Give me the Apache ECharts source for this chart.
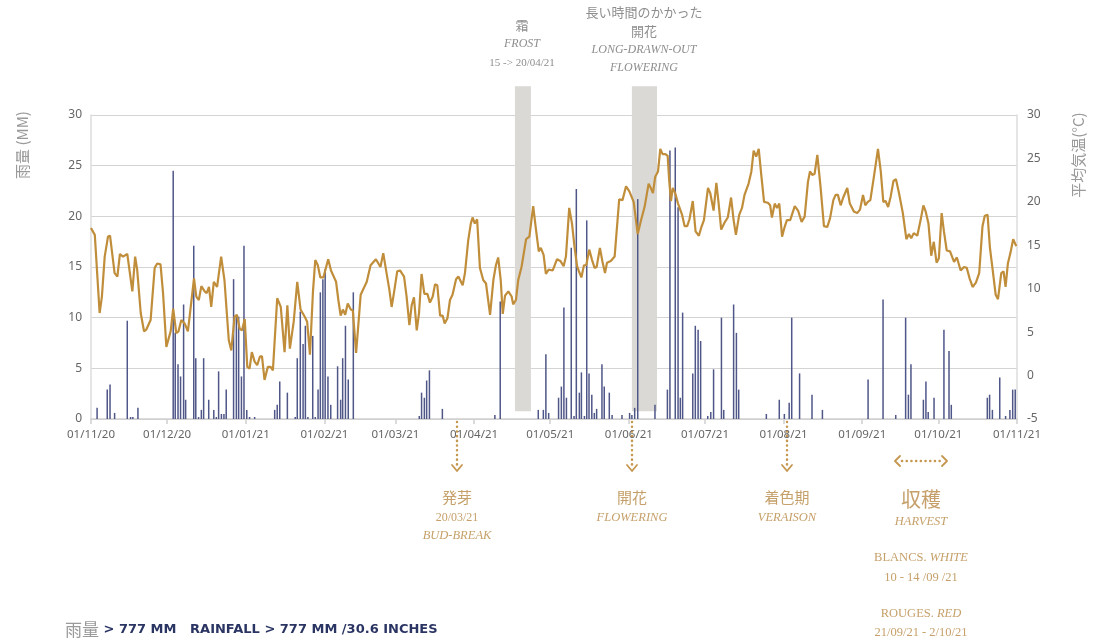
<!DOCTYPE html>
<html>
<head>
<meta charset="utf-8">
<script src="https://cdn.jsdelivr.net/npm/echarts@6/dist/echarts.min.js"></script>
<style>
  html, body { margin: 0; padding: 0; background: #fff; }
  #chart { width: 1096px; height: 642px; }
</style>
</head>
<body>
<div id="chart"></div>
<script>
// x axis: days since 01/11/20
const monthDays = [0, 30, 61, 92, 120, 151, 181, 212, 242, 273, 304, 334, 365];
const monthLabels = ['01/11/20', '01/12/20', '01/01/21', '01/02/21', '01/03/21', '01/04/21',
  '01/05/21', '01/06/21', '01/07/21', '01/08/21', '01/09/21', '01/10/21', '01/11/21'];

// daily mean temperature (°C)
const tempDay = [0, 1.5, 3.4, 4.3, 5.4, 6.7, 7.5, 9.3, 10.4, 11.4, 12.6, 14.3, 16.3, 17.4, 18.2, 19.6, 20.9, 21.8, 23.5, 25.1,
  26.1, 27.4, 28.4, 29.7, 31.4, 32.4, 33.6, 34.5, 35.6, 36.9, 38.2, 40.6, 41.5, 42.5, 43.5, 44.8, 45.6, 46.5, 47.4, 48.4,
  49.7, 51.3, 52.6, 54.3, 55.3, 56.6, 57.5, 58.6, 59.5, 60.6, 61.6, 62.5, 63.4, 64.5, 65.5, 66.6, 67.4, 68.4, 69.7, 70.8,
  71.7, 73.4, 74.8, 76.3, 77.4, 78.4, 79.9, 81.3, 82.6, 84.2, 85.2, 86.3, 87.5, 88.4, 89.4, 90.4, 91.6, 93.5, 94.6, 96.6,
  97.5, 98.4, 99.3, 100.2, 101.2, 102.4, 103.2, 104.5, 106.3, 107.4, 108.7, 110.2, 112.3, 114.1, 115.2, 116.5, 117.6, 118.5, 119.4, 120.7,
  121.8, 123.4, 124.4, 125.5, 126.4, 127.3, 128.4, 129.3, 130.3, 131.4, 132.6, 133.6, 134.7, 135.6, 136.5, 137.6, 138.6, 139.4, 140.5, 141.5,
  142.5, 143.9, 144.8, 146.5, 147.4, 148.7, 149.7, 150.4, 151.3, 152.2, 153.3, 154.6, 155.7, 157.3, 158.6, 159.6, 160.5, 161.5, 162.3, 163.2,
  164.5, 165.8, 166.4, 167.5, 168.4, 169.7, 171.5, 172.8, 174.3, 175.4, 176.5, 177.3, 178.4, 179.3, 180.4, 182.0, 183.7, 185.0, 186.3, 187.2,
  188.5, 189.6, 190.6, 191.6, 192.2, 193.3, 194.3, 195.2, 196.4, 197.5, 198.5, 199.3, 200.6, 201.6, 202.6, 203.4, 204.9, 206.4, 208.2, 209.5,
  210.9, 212.2, 213.9, 215.5, 216.9, 218.2, 219.8, 220.8, 221.5, 222.4, 223.5, 224.4, 225.3, 226.4, 227.3, 227.9, 228.6, 229.3, 230.3, 231.4,
  233.0, 234.0, 235.0, 235.9, 237.2, 238.3, 239.6, 240.6, 241.6, 243.2, 244.1, 245.4, 246.5, 247.4, 248.4, 249.7, 251.0, 252.3, 253.3, 254.2,
  255.5, 256.6, 257.6, 259.2, 260.3, 261.2, 262.2, 263.2, 264.2, 265.3, 266.8, 267.7, 268.4, 269.5, 270.4, 271.3, 272.4, 273.4, 274.3, 275.6,
  277.4, 278.7, 280.1, 281.3, 282.6, 283.4, 284.3, 285.2, 286.3, 287.6, 288.9, 290.2, 291.3, 292.6, 293.5, 294.4, 295.5, 296.5, 298.1, 299.1,
  300.7, 302.0, 303.1, 304.3, 305.2, 306.2, 307.2, 308.6, 310.2, 311.3, 312.3, 313.2, 314.2, 315.2, 316.3, 317.3, 318.5, 320.0, 321.4, 322.4,
  323.3, 324.3, 325.7, 327.0, 328.1, 329.0, 330.1, 331.2, 332.2, 333.3, 334.2, 335.3, 336.2, 337.3, 338.6, 340.2, 341.3, 342.8, 344.1, 345.2,
  346.3, 347.5, 348.8, 350.1, 351.4, 352.3, 353.4, 354.3, 355.4, 356.6, 357.5, 358.8, 359.7, 360.5, 361.4, 362.4, 363.5, 364.7];
const tempC = [17.0, 16.2, 7.2, 9.1, 13.7, 16.0, 16.1, 11.8, 11.4, 14.0, 13.7, 14.0, 9.7, 13.7, 12.2, 7.2, 5.1, 5.3, 6.4, 12.4,
  12.9, 12.8, 9.5, 3.3, 5.1, 7.7, 4.9, 5.1, 6.4, 6.0, 5.1, 11.2, 9.1, 8.7, 10.3, 9.7, 9.5, 10.2, 7.9, 10.8,
  10.2, 13.7, 11.0, 4.1, 2.9, 6.8, 7.0, 5.4, 5.2, 6.5, 1.0, 0.8, 2.7, 1.6, 1.2, 2.2, 2.2, -0.5, 1.0, 1.0,
  0.6, 8.9, 7.9, 2.7, 8.1, 3.1, 6.2, 10.8, 7.6, 6.8, 6.2, 2.4, 9.7, 13.3, 12.7, 11.3, 11.3, 13.4, 12.1, 10.8,
  8.7, 6.9, 7.6, 7.0, 8.3, 7.6, 7.5, 2.6, 9.3, 10.0, 10.8, 12.7, 13.4, 12.5, 14.1, 11.8, 9.9, 7.9, 9.5, 12.0,
  12.1, 11.4, 9.1, 5.8, 8.1, 9.0, 5.2, 7.2, 11.7, 9.4, 9.4, 8.4, 9.1, 10.5, 10.4, 6.9, 6.9, 6.0, 6.6, 8.7,
  9.3, 11.1, 11.4, 10.4, 11.8, 15.6, 17.5, 18.2, 17.5, 18.0, 12.4, 11.0, 10.6, 7.0, 11.0, 12.7, 13.6, 11.0, 7.1, 9.2,
  9.7, 9.1, 8.2, 8.7, 11.0, 12.5, 15.7, 16.0, 19.5, 16.8, 14.3, 14.7, 13.9, 11.7, 12.2, 12.1, 13.4, 13.2, 12.6, 13.7,
  19.3, 17.5, 14.8, 12.6, 12.1, 11.3, 12.7, 12.7, 14.5, 13.3, 12.4, 12.5, 14.7, 13.1, 11.8, 13.0, 13.2, 13.7, 20.3, 20.2,
  21.8, 21.2, 20.0, 16.3, 18.0, 19.4, 22.1, 21.5, 21.0, 22.9, 23.5, 26.1, 25.5, 25.5, 25.3, 22.5, 20.1, 21.6, 21.0, 19.8,
  18.5, 17.2, 17.2, 18.0, 20.1, 16.6, 16.1, 17.1, 17.9, 21.6, 21.0, 19.0, 22.2, 19.8, 16.8, 17.6, 18.2, 20.5, 17.9, 16.2,
  18.5, 19.3, 20.8, 22.1, 23.5, 25.9, 25.2, 26.1, 23.1, 20.0, 19.9, 19.6, 18.2, 19.8, 19.3, 19.8, 16.0, 17.1, 17.9, 17.9,
  19.5, 19.0, 17.7, 18.3, 22.3, 23.5, 23.1, 23.2, 25.4, 21.6, 17.2, 17.1, 18.1, 20.2, 20.8, 20.8, 19.6, 20.5, 21.6, 19.8,
  18.9, 18.7, 19.1, 20.8, 19.6, 20.0, 20.2, 22.9, 26.1, 23.5, 20.0, 20.1, 19.4, 20.6, 22.4, 22.6, 21.0, 18.7, 15.7, 16.3,
  15.8, 16.4, 16.1, 17.9, 19.6, 18.9, 17.5, 13.8, 15.4, 13.0, 13.5, 18.7, 16.6, 14.4, 14.3, 13.1, 13.6, 12.1, 12.5, 12.4,
  11.2, 10.2, 10.7, 11.8, 17.2, 18.4, 18.5, 14.8, 12.2, 9.3, 8.8, 11.8, 12.0, 10.2, 12.9, 14.1, 15.7, 14.9];

// daily rainfall (mm)
const rainDay = [2.4, 6.4, 7.5, 9.3, 14.3, 15.6, 16.5, 18.5, 32.4, 33.2, 34.3, 35.3, 36.5, 37.3, 40.5, 41.3, 42.4, 43.5, 44.4, 46.4,
  48.4, 49.4, 50.3, 51.4, 52.4, 53.3, 56.2, 57.3, 58.2, 59.3, 60.3, 61.4, 62.5, 64.5, 72.4, 73.4, 74.4, 77.4, 80.5, 81.3,
  82.5, 83.6, 84.5, 85.5, 87.4, 88.4, 89.5, 90.4, 91.4, 92.3, 93.4, 94.5, 97.2, 98.4, 99.2, 100.3, 101.4, 103.4, 129.4, 130.3,
  131.4, 132.3, 133.4, 138.5, 159.2, 161.3, 176.3, 178.3, 179.3, 180.4, 184.3, 185.4, 186.4, 187.4, 189.3, 190.4, 191.3, 192.5, 193.3, 194.5,
  195.4, 196.3, 197.4, 198.4, 199.3, 201.4, 202.3, 204.3, 205.4, 209.3, 212.3, 213.2, 214.3, 215.5, 222.3, 227.2, 228.2, 230.3, 231.4, 232.3,
  233.2, 237.2, 238.2, 239.3, 240.3, 243.1, 244.3, 245.4, 248.5, 249.4, 253.3, 254.4, 255.3, 266.2, 271.3, 273.3, 275.2, 276.2, 279.3, 284.2,
  288.3, 306.3, 312.2, 317.2, 321.1, 322.2, 323.2, 328.1, 329.1, 330.0, 332.3, 336.2, 338.2, 339.1, 353.3, 354.2, 355.3, 358.2, 360.5, 362.2,
  363.3, 364.3];
const rainMM = [1.1, 2.9, 3.4, 0.6, 9.7, 0.2, 0.2, 1.1, 24.5, 8.5, 5.4, 4.2, 11.3, 1.9, 17.1, 6.0, 0.2, 0.9, 6.0, 1.9,
  0.9, 0.2, 4.7, 0.5, 0.5, 2.9, 13.8, 10.2, 10.1, 4.2, 17.1, 0.9, 0.2, 0.2, 0.9, 1.4, 3.7, 2.6, 0.2, 6.0,
  10.6, 7.4, 9.2, 0.2, 8.2, 0.2, 2.9, 12.5, 13.8, 14.8, 4.2, 1.4, 5.2, 1.9, 6.0, 9.2, 3.9, 12.5, 0.3, 2.6,
  2.1, 3.8, 4.8, 1.0, 0.4, 11.6, 0.9, 0.9, 6.4, 0.6, 2.1, 3.2, 11.0, 2.1, 16.9, 0.3, 22.7, 2.6, 4.6, 0.3,
  19.6, 4.5, 2.4, 0.6, 1.0, 5.4, 3.2, 2.6, 0.4, 0.4, 0.6, 0.4, 1.1, 21.7, 1.4, 2.9, 26.5, 26.8, 20.9, 2.1,
  10.5, 4.5, 9.2, 8.8, 7.7, 0.3, 0.7, 4.9, 10.0, 0.9, 11.3, 8.5, 2.9, 0.5, 1.9, 0.5, 1.6, 10.0, 4.5, 2.4,
  0.9, 3.9, 11.8, 0.4, 10.0, 2.4, 5.4, 1.9, 3.7, 0.7, 2.1, 8.8, 6.7, 1.4, 2.1, 2.4, 0.9, 4.1, 0.3, 0.9,
  2.9, 2.9];

// shaded periods (day ranges): frost 15 -> 20/04, long-drawn-out flowering
const bandDays = [[167.1, 173.4], [213.2, 223.1]];
// vertical extent of the shaded periods, in °C on the right axis
const bandTop = 33.3;
const bandBottom = -4.1;

const GOLD = '#c6a06a';
const LINE = '#c08e3b';
const GREY = '#8e8e8e';
const NAVY = '#2b3563';
const SERIF = '"Liberation Serif", "DejaVu Serif", serif';
const CJK = '"Noto Sans CJK JP", sans-serif';
const SANS = '"Noto Sans", "Open Sans", sans-serif';

const chart = echarts.init(document.getElementById('chart'));

function txt(x, y, text, size, color, extra) {
  return {
    type: 'text', x: x, y: y, silent: true,
    style: Object.assign({
      text: text, fill: color, fontSize: size, fontFamily: SERIF,
      align: 'center', verticalAlign: 'middle', textAlign: 'center', textVerticalAlign: 'middle'
    }, extra || {})
  };
}

function dotLine(x1, y1, x2, y2) {
  return {
    type: 'line', silent: true,
    shape: { x1: x1, y1: y1, x2: x2, y2: y2 },
    style: { stroke: '#c5974f', lineWidth: 2.5, lineDash: [0.1, 4.6], lineCap: 'round' }
  };
}
function chevron(points) {
  return {
    type: 'polyline', silent: true,
    shape: { points: points },
    style: { stroke: '#c5974f', lineWidth: 1.8, fill: null, lineCap: 'round', lineJoin: 'round' }
  };
}

const italicPair = {
  a: { fontSize: 12.5, fill: GOLD, fontFamily: SERIF },
  b: { fontSize: 12.5, fill: GOLD, fontFamily: SERIF, fontStyle: 'italic' }
};

const graphics = [
  // y-axis titles
  txt(22, 145, '雨量 (MM)', 15, '#9a9a9a', { fontFamily: CJK }),
  txt(1078, 155, '平均気温(°C)', 15, '#9a9a9a', { fontFamily: CJK }),

  // top annotations
  txt(522, 25, '霜', 13, GREY, { fontFamily: CJK }),
  txt(522, 44, 'FROST', 12, GREY, { fontStyle: 'italic' }),
  txt(522, 63, '15 -> 20/04/21', 11, GREY),
  txt(644, 12, '長い時間のかかった', 13, GREY, { fontFamily: CJK }),
  txt(644, 31, '開花', 13, GREY, { fontFamily: CJK }),
  txt(644, 50, 'LONG-DRAWN-OUT', 12, GREY, { fontStyle: 'italic' }),
  txt(644, 68, 'FLOWERING', 12, GREY, { fontStyle: 'italic' }),

  // phenology arrows
  dotLine(457, 422, 457, 466), chevron([[452, 465], [457, 471], [462, 465]]),
  dotLine(632, 422, 632, 466), chevron([[627, 465], [632, 471], [637, 465]]),
  dotLine(787, 422, 787, 466), chevron([[782, 465], [787, 471], [792, 465]]),
  dotLine(902, 461, 940, 461), chevron([[900, 456], [895, 461], [900, 466]]), chevron([[942, 456], [947, 461], [942, 466]]),

  // phenology labels
  txt(457, 497, '発芽', 15, GOLD, { fontFamily: CJK }),
  txt(457, 518, '20/03/21', 12, GOLD),
  txt(457, 536, 'BUD-BREAK', 12.5, GOLD, { fontStyle: 'italic' }),
  txt(632, 497, '開花', 15, GOLD, { fontFamily: CJK }),
  txt(632, 518, 'FLOWERING', 12.5, GOLD, { fontStyle: 'italic' }),
  txt(787, 497, '着色期', 15, GOLD, { fontFamily: CJK }),
  txt(787, 518, 'VERAISON', 12.5, GOLD, { fontStyle: 'italic' }),
  txt(921, 499, '収穫', 20, GOLD, { fontFamily: CJK }),
  txt(921, 522, 'HARVEST', 12.5, GOLD, { fontStyle: 'italic' }),
  txt(921, 558, '{a|BLANCS. }{b|WHITE}', 12.5, GOLD, { rich: italicPair }),
  txt(921, 578, '10 - 14 /09 /21', 12.5, GOLD),
  txt(921, 614, '{a|ROUGES. }{b|RED}', 12.5, GOLD, { rich: italicPair }),
  txt(921, 633, '21/09/21 - 2/10/21', 12.5, GOLD),

  // rainfall total
  txt(65, 630, '{c|雨量}{b| > 777 MM   RAINFALL > 777 MM /30.6 INCHES}', 13, NAVY, {
    align: 'left', textAlign: 'left',
    rich: {
      c: { fontSize: 17, fill: '#9a9a9a', fontFamily: CJK },
      b: { fontSize: 13, fill: NAVY, fontFamily: '"DejaVu Sans", sans-serif', fontWeight: 'bold' }
    }
  })
];
// rotate the two axis titles to read bottom-up
graphics[0].rotation = Math.PI / 2;
graphics[1].rotation = Math.PI / 2;

const option = {
  animation: false,
  backgroundColor: '#fff',
  grid: { left: 91, right: 79, top: 115, bottom: 223, containLabel: false },
  xAxis: {
    type: 'value',
    min: 0,
    max: 365,
    splitLine: { show: false },
    axisLine: { show: true, lineStyle: { color: '#cfcfcf', width: 1.5 } },
    axisTick: { show: true, customValues: monthDays, length: 5, lineStyle: { color: '#cfcfcf', width: 1.5 } },
    axisLabel: {
      customValues: monthDays,
      formatter: (v) => monthLabels[monthDays.indexOf(Math.round(v))] || '',
      color: '#666', fontSize: 11.5, fontFamily: SANS, margin: 10
    }
  },
  yAxis: [
    {
      type: 'value', min: 0, max: 30, interval: 5, position: 'left',
      axisLine: { show: true, lineStyle: { color: '#dcdcdc', width: 1.5 } },
      axisTick: { show: false },
      axisLabel: { color: '#666', fontSize: 12, fontFamily: SANS, margin: 9 },
      splitLine: { show: true, lineStyle: { color: '#d4d4d4', width: 1 } }
    },
    {
      type: 'value', min: -5, max: 30, interval: 5, position: 'right',
      axisLine: { show: true, lineStyle: { color: '#dcdcdc', width: 1.5 } },
      axisTick: { show: false },
      axisLabel: { color: '#666', fontSize: 12, fontFamily: SANS, margin: 10 },
      splitLine: { show: false }
    }
  ],
  series: [
    {
      type: 'custom',
      name: 'bands',
      xAxisIndex: 0,
      yAxisIndex: 1,
      z: 1,
      silent: true,
      clip: false,
      data: bandDays,
      renderItem: (params, api) => {
        const p0 = api.coord([api.value(0), bandTop]);
        const p1 = api.coord([api.value(1), bandBottom]);
        return {
          type: 'rect',
          shape: { x: p0[0], y: p0[1], width: p1[0] - p0[0], height: p1[1] - p0[1] },
          style: { fill: '#dad9d5' }
        };
      }
    },
    {
      type: 'bar',
      name: '雨量',
      xAxisIndex: 0,
      yAxisIndex: 0,
      z: 2,
      barWidth: 1.5,
      itemStyle: { color: '#4f5688' },
      data: rainDay.map((d, i) => [d, rainMM[i]])
    },
    {
      type: 'line',
      name: '平均気温',
      xAxisIndex: 0,
      yAxisIndex: 1,
      z: 3,
      symbol: 'none',
      smooth: false,
      lineStyle: { color: LINE, width: 2.2 },
      data: tempDay.map((d, i) => [d, tempC[i]])
    }
  ],
  graphic: graphics
};

chart.setOption(option);
window.addEventListener('resize', () => chart.resize());
</script>
</body>
</html>
